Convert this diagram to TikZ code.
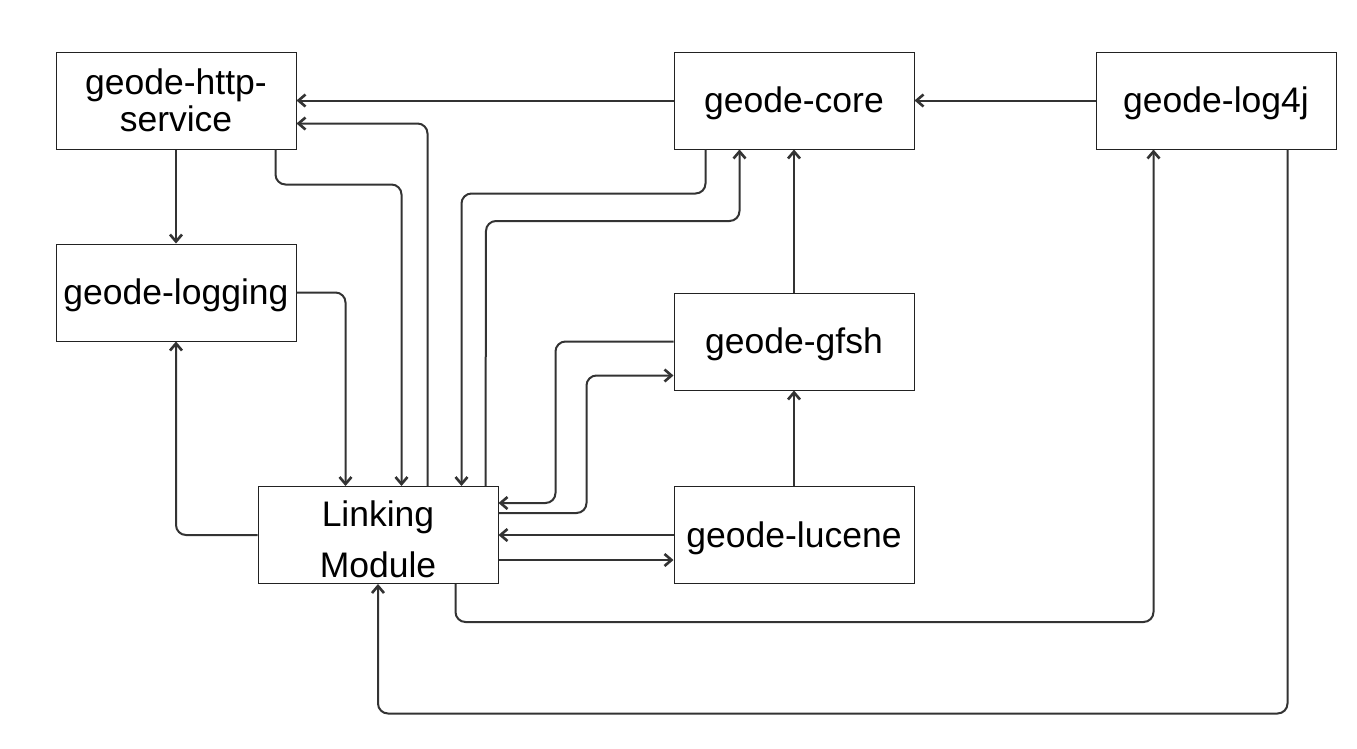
\documentclass[tikz,border=0pt]{standalone}
\usepackage{fontspec}
\setmainfont{Liberation Sans}
\usetikzlibrary{calc,arrows.meta}
\definecolor{ln}{HTML}{333333}
\definecolor{bd}{HTML}{222222}
\begin{document}
\begin{tikzpicture}[x=1pt,y=-1pt,
  box/.style={draw=bd,line width=1pt,fill=white,minimum width=240pt,minimum height=97pt,inner sep=0pt,align=center,
    font=\fontsize{35.5pt}{37pt}\selectfont},
  lbl/.style={inner sep=0pt,align=center,font=\fontsize{35.5pt}{37pt}\selectfont},
  arr/.style={draw=ln,line width=2pt,rounded corners=10pt,-{Straight Barb[length=7pt,width=12pt,line width=2.6pt]}}]
\useasboundingbox[fill=white] (0,0) rectangle (1357,748);
\node[box] (http) at (176,100.5) {geode-http-\\service};
\node[box] (logging) at (176,292.5) {};
\node[lbl] at ($(logging.center)+(0,3)$) {geode-logging};
\node[box] (link) at (378,535) {};
\node[lbl] at ($(link.center)+(0,4.5)$) {Linking\\[14pt]Module};
\node[box] (core) at (794,100.5) {};
\node[lbl] at ($(core.center)+(0,3)$) {geode-core};
\node[box] (log4j) at (1216,100.5) {};
\node[lbl] at ($(log4j.center)+(0,3)$) {geode-log4j};
\node[box] (gfsh) at (794,341.5) {};
\node[lbl] at ($(gfsh.center)+(0,3)$) {geode-gfsh};
\node[box] (lucene) at (794,535) {};
\node[lbl] at ($(lucene.center)+(0,3)$) {geode-lucene};
% edges
\draw[arr] (core.west) -- (http.east);
\draw[arr] ($(link.north west)+(170,0)$) |- ($(http.north east)+(0,72)$);
\draw[arr] ($(http.south west)+(220,0)$) -- ++(0,35) -| ($(link.north west)+(144,0)$);
\draw[arr] ($(core.south west)+(32,0)$) -- ++(0,44) -| ($(link.north west)+(204,0)$);
\draw[arr] ($(link.north west)+(228,0)$) -- (486,221) -| ($(core.south west)+(66,0)$);
\draw[arr] (http.south) -- (logging.north);
\draw[arr] (logging.east) -| ($(link.north west)+(88,0)$);
\draw[arr] (link.west) -| (logging.south);
\draw[arr] (log4j.west) -- (core.east);
\draw[arr] (gfsh.north) -- (core.south);
\draw[arr] (lucene.north) -- (gfsh.south);
\draw[arr] (gfsh.west) -- ++(-118,0) |- ($(link.north east)+(0,17)$);
\draw[arr] ($(link.north east)+(0,27)$) -- ++(88,0) |- ($(gfsh.north west)+(0,83)$);
\draw[arr] (lucene.west) -- (link.east);
\draw[arr] ($(link.north east)+(0,74)$) -- ($(lucene.north west)+(0,74)$);
\draw[arr] ($(link.south west)+(198,0)$) -- ++(0,38) -| ($(log4j.south west)+(58,0)$);
\draw[arr] ($(log4j.south west)+(192,0)$) -- ++(0,564) -| (link.south);
\end{tikzpicture}
\end{document}
